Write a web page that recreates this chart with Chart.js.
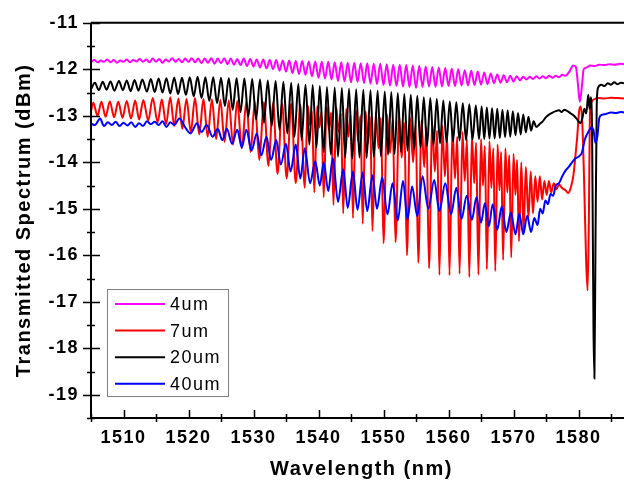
<!DOCTYPE html>
<html>
<head>
<meta charset="utf-8">
<script src="https://cdn.jsdelivr.net/npm/chart.js@4.4.0/dist/chart.umd.min.js"></script>
<style>
  html, body { margin: 0; padding: 0; background: #ffffff; }
  #wrap { width: 624px; height: 485px; }
</style>
</head>
<body>
<div id="wrap"><canvas id="spectra" width="624" height="485"></canvas></div>
<script>
// Fibre taper transmission spectra for four taper lengths.
const seriesNames  = ['4um', '7um', '20um', '40um'];
const seriesColors = ['#ff00ff', '#ff0000', '#000000', '#0000ff'];
const xTickValues  = [1510, 1520, 1530, 1540, 1550, 1560, 1570, 1580];
const yTickValues  = [-19, -18, -17, -16, -15, -14, -13, -12, -11];
const xTitle = 'Wavelength (nm)';
const yTitle = 'Transmitted Spectrum (dBm)';

// [wavelength (nm), power (dBm)]
const spectrum4um = [
  [1505.0,-11.84],[1505.5,-11.80],[1506.0,-11.85],[1506.5,-11.81],[1507.0,-11.84],[1507.5,-11.79],[1508.0,-11.85],[1508.5,-11.80],[1509.0,-11.86],[1509.5,-11.81],
  [1510.0,-11.84],[1510.5,-11.79],[1511.0,-11.85],[1511.5,-11.80],[1512.0,-11.83],[1512.5,-11.78],[1513.0,-11.84],[1513.5,-11.79],[1514.0,-11.85],[1514.5,-11.77],
  [1515.0,-11.84],[1515.5,-11.78],[1516.0,-11.86],[1516.5,-11.79],[1517.0,-11.83],[1517.5,-11.76],[1518.0,-11.84],[1518.5,-11.78],[1519.0,-11.85],[1519.5,-11.77],
  [1520.0,-11.84],[1520.5,-11.76],[1521.0,-11.85],[1521.5,-11.77],[1522.0,-11.87],[1522.5,-11.77],[1523.0,-11.86],[1523.5,-11.76],[1524.0,-11.88],[1524.5,-11.77],
  [1525.0,-11.87],[1525.5,-11.76],[1526.0,-11.89],[1526.5,-11.77],[1527.0,-11.90],[1527.5,-11.78],[1528.0,-11.91],[1528.5,-11.77],[1529.0,-11.93],[1529.5,-11.78],
  [1530.0,-11.94],[1530.5,-11.79],[1531.0,-11.96],[1531.5,-11.79],[1532.0,-11.98],[1532.5,-11.80],[1533.0,-12.00],[1533.5,-11.80],[1534.0,-12.03],[1534.5,-11.81],
  [1535.0,-12.05],[1535.5,-11.81],[1536.0,-12.08],[1536.5,-11.82],[1537.0,-12.10],[1537.5,-11.82],[1538.0,-12.12],[1538.5,-11.83],[1539.0,-12.15],[1539.5,-11.83],
  [1540.0,-12.18],[1540.5,-11.84],[1541.0,-12.20],[1541.5,-11.84],[1542.0,-12.22],[1542.5,-11.85],[1543.0,-12.25],[1543.5,-11.85],[1544.0,-12.26],[1544.5,-11.86],
  [1545.0,-12.28],[1545.5,-11.86],[1546.0,-12.27],[1546.5,-11.87],[1547.0,-12.30],[1547.5,-11.87],[1548.0,-12.31],[1548.5,-11.88],[1549.0,-12.32],[1549.5,-11.88],
  [1550.0,-12.34],[1550.5,-11.89],[1551.0,-12.35],[1551.5,-11.90],[1552.0,-12.36],[1552.5,-11.90],[1553.0,-12.37],[1553.5,-11.91],[1554.0,-12.38],[1554.5,-11.92],
  [1555.0,-12.40],[1555.5,-11.93],[1556.0,-12.38],[1556.5,-11.94],[1557.0,-12.37],[1557.5,-11.95],[1558.0,-12.38],[1558.5,-11.96],[1559.0,-12.37],[1559.5,-11.97],
  [1560.0,-12.36],[1560.5,-11.99],[1561.0,-12.36],[1561.5,-12.00],[1562.0,-12.35],[1562.5,-12.02],[1563.0,-12.35],[1563.5,-12.03],[1564.0,-12.34],[1564.5,-12.05],
  [1565.0,-12.33],[1565.5,-12.07],[1566.0,-12.32],[1566.5,-12.09],[1567.0,-12.30],[1567.5,-12.11],[1568.0,-12.29],[1568.5,-12.13],[1569.0,-12.28],[1569.5,-12.14],
  [1570.0,-12.26],[1570.5,-12.15],[1571.0,-12.24],[1571.5,-12.16],[1572.0,-12.22],[1572.5,-12.16],[1573.0,-12.21],[1573.5,-12.15],[1574.0,-12.20],[1574.5,-12.15],
  [1575.0,-12.19],[1575.5,-12.14],[1576.0,-12.18],[1576.5,-12.14],[1577.0,-12.17],[1577.5,-12.12],[1578.0,-12.14],
  [1578.6,-12.05],[1579.2,-11.92],[1579.6,-11.95],[1579.9,-12.30],[1580.2,-12.70],[1580.5,-12.40],[1580.8,-12.00],[1581.3,-11.96],[1581.8,-11.92],
  [1582.5,-11.93],[1583.2,-11.90],[1584.0,-11.91],[1584.8,-11.89],[1585.6,-11.90],[1586.4,-11.88],[1587.0,-11.89]
];

const spectrum7um = [
  [1505.0,-12.90],[1505.35,-12.72],[1506.0,-13.00],[1506.6,-12.70],[1507.25,-13.02],[1507.9,-12.69],[1508.55,-13.03],[1509.2,-12.70],[1509.85,-13.04],
  [1510.5,-12.68],[1511.15,-13.06],[1511.8,-12.67],[1512.4,-13.08],[1513.05,-12.66],[1513.8,-13.10],[1514.5,-12.62],[1515.25,-13.14],[1515.9,-12.65],
  [1516.55,-13.18],[1517.2,-12.60],[1517.8,-13.22],[1518.45,-12.63],[1519.05,-13.28],[1519.7,-12.64],[1520.35,-13.35],[1521.0,-12.62],[1521.65,-13.40],
  [1522.3,-12.64],[1522.95,-13.45],[1523.6,-12.65],[1524.25,-13.50],[1524.9,-12.66],[1525.55,-13.56],[1526.2,-12.67],[1526.85,-13.62],[1527.5,-12.68],
  [1528.2,-13.70],[1528.9,-12.69],[1529.55,-13.78],[1530.2,-12.70],[1530.9,-13.95],[1531.6,-12.71],[1532.3,-14.08],[1533.0,-12.72],[1533.7,-14.25],
  [1534.4,-12.73],[1535.1,-14.35],[1535.8,-12.74],[1536.5,-14.45],[1537.2,-12.76],[1537.9,-14.55],
  [1538.35,-12.78],[1538.7,-13.20],[1539.0,-12.90],[1539.35,-14.65],
  [1539.8,-12.79],[1540.15,-13.25],[1540.45,-12.92],[1540.8,-14.75],
  [1541.25,-12.80],[1541.6,-13.30],[1541.95,-12.93],[1542.3,-14.92],
  [1542.75,-12.82],[1543.1,-13.35],[1543.45,-12.95],[1543.8,-15.10],
  [1544.25,-12.85],[1544.6,-13.45],[1544.95,-12.98],[1545.3,-15.20],
  [1545.75,-12.88],[1546.1,-13.55],[1546.45,-13.00],[1546.8,-15.32],
  [1547.25,-12.90],[1547.6,-13.60],[1547.95,-13.02],[1548.3,-15.48],
  [1548.8,-12.93],[1549.25,-13.70],[1549.6,-13.05],[1550.0,-15.74],
  [1550.55,-12.97],[1551.0,-13.80],[1551.4,-13.10],[1551.85,-15.72],
  [1552.4,-13.00],[1552.8,-13.90],[1553.2,-13.15],[1553.6,-16.00],
  [1554.1,-13.05],[1554.55,-14.00],[1554.95,-13.20],[1555.35,-16.16],
  [1555.85,-13.10],[1556.25,-14.10],[1556.6,-13.25],[1557.0,-16.28],
  [1557.5,-13.17],[1557.9,-14.20],[1558.25,-13.32],[1558.6,-16.42],
  [1559.05,-13.22],[1559.45,-14.30],[1559.8,-13.38],[1560.15,-16.43],
  [1560.6,-13.28],[1561.0,-14.35],[1561.35,-13.45],[1561.7,-16.40],
  [1562.15,-13.35],[1562.5,-14.40],[1562.85,-13.50],[1563.2,-16.47],
  [1563.6,-13.42],[1563.95,-14.45],[1564.25,-13.58],[1564.6,-16.42],
  [1565.0,-13.50],[1565.3,-14.50],[1565.6,-13.65],[1565.9,-16.30],
  [1566.3,-13.55],[1566.6,-14.55],[1566.9,-13.70],[1567.2,-16.34],
  [1567.55,-13.62],[1567.85,-14.60],[1568.1,-13.78],[1568.4,-16.10],
  [1568.75,-13.70],[1569.05,-14.65],[1569.35,-13.85],[1569.65,-16.05],
  [1570.0,-13.82],[1570.3,-14.70],[1570.55,-13.95],[1570.85,-15.70],
  [1571.2,-14.00],[1571.55,-15.50],[1571.9,-14.10],[1572.3,-15.20],[1572.65,-14.20],[1573.0,-15.10],[1573.35,-14.30],[1573.7,-14.85],
  [1574.05,-14.30],[1574.4,-14.80],[1574.75,-14.40],[1575.1,-14.70],[1575.45,-14.40],[1575.8,-14.65],[1576.2,-14.45],[1576.6,-14.58],
  [1577.0,-14.48],[1577.5,-14.56],[1578.0,-14.60],[1578.4,-14.66],[1578.8,-14.55],[1579.2,-14.30],[1579.5,-13.90],[1579.8,-13.45],
  [1580.1,-12.90],[1580.35,-12.80],[1580.6,-13.20],[1580.9,-14.60],[1581.15,-16.00],[1581.4,-16.76],[1581.6,-15.20],[1581.75,-13.00],
  [1582.0,-12.70],[1582.5,-12.64],[1583.0,-12.62],[1584.0,-12.63],[1585.0,-12.61],[1586.0,-12.62],[1587.0,-12.63]
];

const spectrum20um = [
  [1505.0,-12.43],[1505.6,-12.29],[1506.2,-12.45],[1506.8,-12.27],[1507.4,-12.44],[1508.0,-12.26],[1508.6,-12.46],[1509.3,-12.25],[1509.9,-12.45],
  [1510.5,-12.24],[1511.1,-12.47],[1511.7,-12.23],[1512.3,-12.46],[1512.9,-12.22],[1513.6,-12.48],[1514.2,-12.21],[1514.8,-12.49],[1515.4,-12.20],
  [1516.0,-12.50],[1516.6,-12.19],[1517.2,-12.52],[1517.8,-12.18],[1518.4,-12.53],[1519.0,-12.18],[1519.6,-12.55],[1520.2,-12.17],[1520.8,-12.58],
  [1521.4,-12.16],[1522.0,-12.62],[1522.6,-12.17],[1523.2,-12.68],[1523.8,-12.17],[1524.4,-12.73],[1525.0,-12.18],[1525.6,-12.79],[1526.2,-12.19],
  [1526.8,-12.87],[1527.4,-12.19],[1528.0,-12.92],[1528.6,-12.20],[1529.2,-13.02],[1529.8,-12.21],[1530.4,-13.08],[1531.0,-12.22],[1531.6,-13.15],
  [1532.2,-12.24],[1532.8,-13.22],[1533.4,-12.25],[1534.0,-13.30],[1534.6,-12.27],[1535.2,-13.38],[1535.8,-12.29],[1536.3,-13.45],[1536.9,-12.31],
  [1537.4,-13.52],[1538.0,-12.33],[1538.6,-13.62],[1539.1,-12.34],[1539.7,-13.68],[1540.2,-12.36],[1540.8,-13.78],[1541.3,-12.38],[1541.9,-13.83],
  [1542.5,-12.39],[1543.0,-13.88],[1543.6,-12.40],[1544.1,-13.90],[1544.7,-12.42],[1545.2,-13.92],[1545.8,-12.43],[1546.3,-13.90],[1546.9,-12.44],
  [1547.4,-13.91],[1548.0,-12.45],[1548.5,-13.88],[1549.1,-12.46],[1549.6,-13.87],[1550.2,-12.48],[1550.7,-13.84],[1551.2,-12.49],[1551.7,-13.82],
  [1552.2,-12.51],[1552.7,-13.78],[1553.2,-12.53],[1553.7,-13.75],[1554.2,-12.55],[1554.7,-13.72],[1555.2,-12.57],[1555.7,-13.68],[1556.2,-12.60],
  [1556.7,-13.65],[1557.2,-12.62],[1557.7,-13.62],[1558.2,-12.64],[1558.7,-13.59],[1559.2,-12.67],[1559.7,-13.57],[1560.2,-12.69],[1560.7,-13.55],
  [1561.2,-12.71],[1561.7,-13.53],[1562.2,-12.73],[1562.7,-13.52],[1563.2,-12.75],[1563.7,-13.51],[1564.2,-12.78],[1564.7,-13.50],[1565.1,-12.80],
  [1565.5,-13.50],[1565.9,-12.82],[1566.3,-13.49],[1566.7,-12.84],[1567.1,-13.49],[1567.5,-12.85],[1567.9,-13.48],[1568.3,-12.87],[1568.7,-13.46],
  [1569.1,-12.88],[1569.5,-13.45],[1569.9,-12.90],[1570.3,-13.42],[1570.7,-12.94],[1571.1,-13.40],[1571.5,-12.97],[1571.9,-13.36],[1572.3,-13.02],
  [1572.7,-13.32],[1573.1,-13.12],[1573.5,-13.24],
  [1574.0,-13.18],[1574.5,-13.12],[1575.0,-13.03],[1575.5,-12.97],[1576.0,-12.93],[1576.5,-12.90],[1577.0,-12.88],[1577.4,-12.92],[1577.8,-12.87],
  [1578.3,-12.90],[1578.8,-12.95],[1579.3,-13.00],[1579.8,-13.08],[1580.3,-13.16],[1580.6,-13.05],[1580.9,-12.85],[1581.2,-12.95],[1581.5,-12.55],
  [1581.7,-12.85],[1581.9,-12.60],[1582.1,-13.50],[1582.3,-17.50],[1582.45,-18.65],[1582.6,-16.00],[1582.8,-12.80],[1583.0,-12.40],[1583.5,-12.33],
  [1584.0,-12.36],[1584.5,-12.30],[1585.0,-12.33],[1585.5,-12.28],[1586.0,-12.32],[1586.5,-12.29],[1587.0,-12.30]
];

const spectrum40um = [
  [1505.0,-13.17],[1505.6,-13.20],[1506.4,-13.06],[1507.0,-13.22],[1507.6,-13.14],[1508.2,-13.20],[1508.8,-13.13],[1509.4,-13.22],[1510.0,-13.15],
  [1510.6,-13.21],[1511.2,-13.14],[1511.8,-13.24],[1512.4,-13.16],[1513.0,-13.22],[1513.6,-13.12],[1514.2,-13.18],[1514.8,-13.13],[1515.4,-13.20],
  [1516.0,-13.12],[1516.6,-13.24],[1517.2,-13.14],[1517.8,-13.20],[1518.6,-13.06],[1519.5,-13.25],[1520.3,-13.38],[1521.3,-13.16],[1522.0,-13.35],
  [1522.8,-13.20],[1523.7,-13.45],[1524.5,-13.28],[1525.2,-13.52],[1525.9,-13.28],[1526.7,-13.60],[1527.5,-13.30],[1528.2,-13.68],[1528.9,-13.30],
  [1529.7,-13.75],[1530.5,-13.38],[1531.2,-13.85],[1532.0,-13.45],[1532.7,-13.95],[1533.5,-13.52],[1534.2,-14.05],[1535.0,-13.60],[1535.7,-14.20],
  [1536.5,-13.62],[1537.2,-14.35],[1537.9,-13.70],[1538.7,-14.45],[1539.5,-13.98],[1540.2,-14.50],[1540.8,-14.00],[1541.5,-14.62],[1542.2,-13.91],
  [1543.0,-14.85],[1543.8,-14.15],[1544.5,-14.98],[1545.3,-14.20],[1546.0,-15.02],[1546.8,-14.22],[1547.5,-15.05],[1548.3,-14.28],[1549.0,-15.00],
  [1549.8,-14.32],[1550.6,-15.12],[1551.4,-14.45],[1552.2,-15.25],[1553.0,-14.40],[1553.7,-15.23],[1554.4,-14.52],[1555.2,-15.16],[1556.0,-14.30],
  [1556.9,-15.00],[1557.8,-14.38],[1558.6,-15.05],[1559.5,-14.45],[1560.4,-15.12],[1561.2,-14.55],[1562.0,-15.22],[1562.8,-14.72],[1563.6,-15.24],
  [1564.3,-14.75],[1565.0,-15.30],[1565.6,-14.88],[1566.2,-15.38],[1566.8,-14.90],[1567.5,-15.45],[1568.2,-14.95],[1568.9,-15.50],[1569.6,-15.08],
  [1570.3,-15.55],[1570.9,-15.10],[1571.5,-15.55],[1572.1,-15.15],[1572.7,-15.50],[1573.2,-15.20],[1573.7,-15.35],[1574.1,-15.00],[1574.5,-15.10],
  [1574.9,-14.82],[1575.3,-14.90],[1575.7,-14.68],[1576.1,-14.72],[1576.5,-14.50],[1577.0,-14.45],[1577.5,-14.30],[1578.0,-14.18],[1578.5,-14.10],
  [1579.0,-14.00],[1579.5,-13.92],[1580.0,-13.88],[1580.5,-13.80],[1581.0,-13.50],[1581.5,-13.35],[1582.0,-13.25],[1582.3,-13.30],[1582.6,-13.58],
  [1582.9,-13.45],[1583.2,-13.05],[1583.6,-12.98],[1584.2,-12.96],[1585.0,-12.93],[1585.8,-12.94],[1586.5,-12.92],[1587.0,-12.93]
];

const allSpectra = [spectrum4um, spectrum7um, spectrum20um, spectrum40um];

const FONT = "'Liberation Sans', Arial, sans-serif";

// Origin-style frame: crossing major/minor ticks, top border, boxed legend, axis titles.
const framePlugin = {
  id: 'originFrame',
  beforeDraw(chart) {
    chart.ctx.letterSpacing = '1.5px';
  },
  afterDraw(chart) {
    const ctx = chart.ctx;
    const xs = chart.scales.x, ys = chart.scales.y;
    const area = chart.chartArea;
    ctx.save();
    ctx.strokeStyle = '#000';
    ctx.fillStyle = '#000';

    // axis lines and top border
    ctx.lineWidth = 2;
    ctx.beginPath();
    ctx.moveTo(area.left, area.top); ctx.lineTo(area.right, area.top);
    ctx.moveTo(area.left, area.top); ctx.lineTo(area.left, area.bottom);
    ctx.moveTo(area.left - 1, area.bottom); ctx.lineTo(area.right, area.bottom);
    ctx.stroke();

    // y ticks every 0.5 dB
    ctx.lineWidth = 1.5;
    ctx.beginPath();
    for (let v = ys.min; v <= ys.max + 1e-9; v += 0.5) {
      const py = Math.round(ys.getPixelForValue(v)) + 0.5;
      const major = Math.abs(v - Math.round(v)) < 1e-6;
      if (major) { ctx.moveTo(area.left - 8, py); ctx.lineTo(area.left + 9, py); }
      else { ctx.moveTo(area.left - 4, py); ctx.lineTo(area.left + 4, py); }
    }
    // x ticks every 5 nm
    for (let v = 1505; v <= xs.max + 1e-9; v += 5) {
      const px = Math.round(xs.getPixelForValue(v)) + 0.5;
      if (v % 10 === 0) { ctx.moveTo(px, area.bottom); ctx.lineTo(px, area.bottom - 8); }
      else { ctx.moveTo(px, area.bottom - 4); ctx.lineTo(px, area.bottom + 4); }
    }
    ctx.stroke();

    // axis titles
    ctx.letterSpacing = '1.5px';
    ctx.font = 'bold 20px ' + FONT;
    ctx.textAlign = 'center';
    ctx.textBaseline = 'middle';
    ctx.fillText(xTitle, (area.left + area.right) / 2 + 4, 469);
    ctx.save();
    ctx.translate(24, (area.top + area.bottom) / 2);
    ctx.rotate(-Math.PI / 2);
    ctx.fillText(yTitle, 0, 0);
    ctx.restore();

    // legend
    const lx = 107.5, ly = 289.5, lw = 121, lh = 107;
    ctx.fillStyle = '#ffffff';
    ctx.fillRect(lx, ly, lw, lh);
    ctx.strokeStyle = '#808080';
    ctx.lineWidth = 1;
    ctx.strokeRect(lx, ly, lw, lh);
    ctx.font = '18px ' + FONT;
    ctx.textAlign = 'left';
    ctx.textBaseline = 'middle';
    seriesNames.forEach((name, i) => {
      const y = 304 + i * 26.6;
      ctx.strokeStyle = seriesColors[i];
      ctx.lineWidth = 2;
      ctx.beginPath();
      ctx.moveTo(115, y); ctx.lineTo(165, y);
      ctx.stroke();
      ctx.fillStyle = '#000';
      ctx.fillText(name, 170, y + 1);
    });
    ctx.restore();
  }
};

const datasets = allSpectra.map((pts, i) => ({
  label: seriesNames[i],
  data: pts.map(([x, y]) => ({ x, y })),
  borderColor: seriesColors[i],
  backgroundColor: seriesColors[i],
  borderWidth: 2,
  pointRadius: 0,
  cubicInterpolationMode: 'monotone',
  fill: false,
  order: 3 - i
}));

new Chart(document.getElementById('spectra'), {
  type: 'line',
  data: { datasets },
  options: {
    responsive: false,
    animation: false,
    devicePixelRatio: 1,
    layout: { padding: { top: 18, left: 0, right: 0, bottom: 0 } },
    plugins: { legend: { display: false }, tooltip: { enabled: false } },
    scales: {
      x: {
        type: 'linear',
        min: 1505,
        max: 1587,
        afterBuildTicks: s => { s.ticks = xTickValues.map(v => ({ value: v })); },
        afterFit: s => { s.height = 67; },
        grid: { display: false, drawTicks: false },
        border: { display: false },
        ticks: { color: '#000', padding: 9, autoSkip: false, maxRotation: 0,
                 callback: v => String(v),
                 font: { family: FONT, size: 18, weight: 'bold' } }
      },
      y: {
        type: 'linear',
        min: -19.5,
        max: -11,
        afterBuildTicks: s => { s.ticks = yTickValues.map(v => ({ value: v })); },
        afterFit: s => { s.width = 91; },
        grid: { display: false, drawTicks: false },
        border: { display: false },
        ticks: { color: '#000', padding: 12,
                 callback: v => String(v),
                 font: { family: FONT, size: 18, weight: 'bold' } }
      }
    }
  },
  plugins: [framePlugin]
});
</script>
</body>
</html>
